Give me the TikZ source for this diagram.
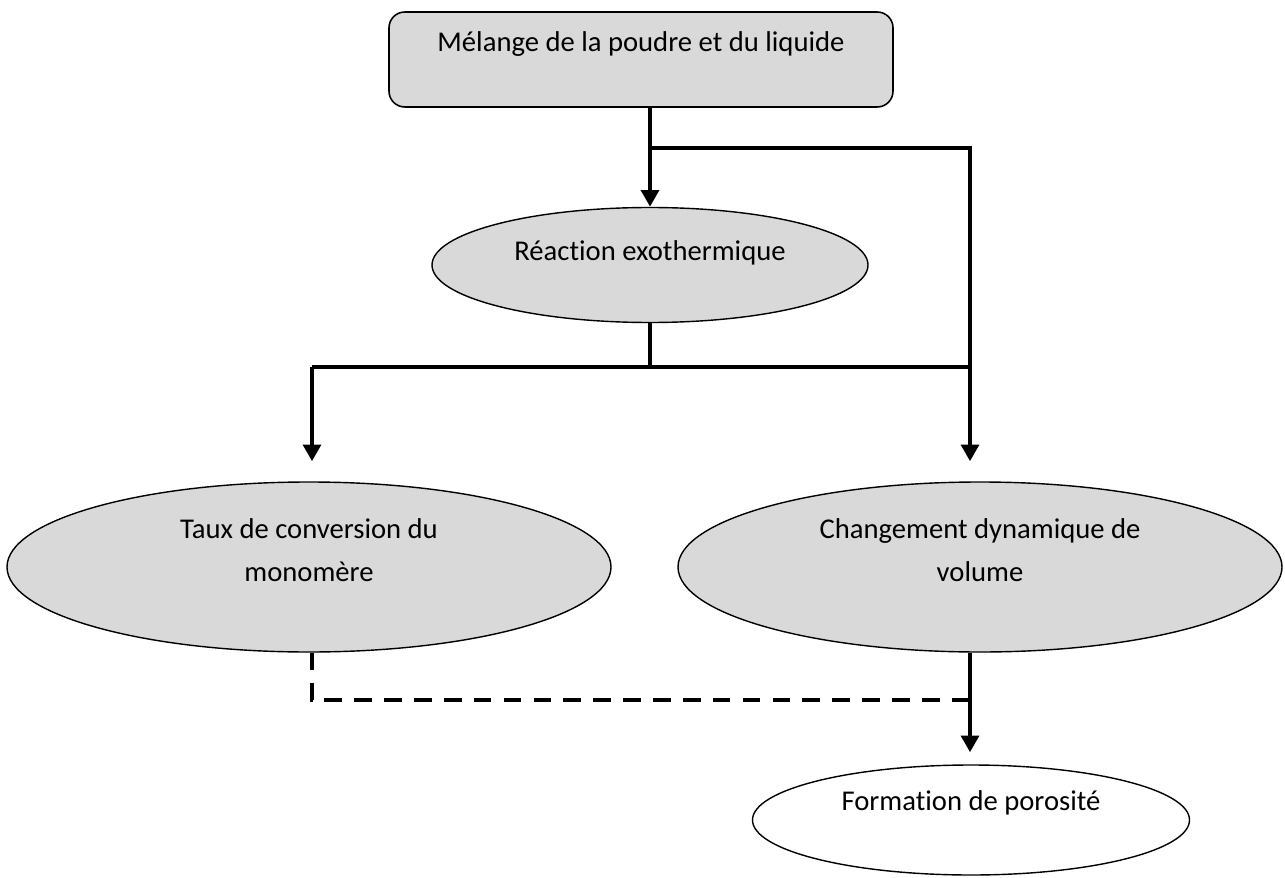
\documentclass[tikz,border=0pt]{standalone}
\usepackage{fontspec}
\setmainfont{Carlito}[Ligatures=NoCommon]
\usepackage{tikz}
\usetikzlibrary{shapes.geometric, arrows.meta, positioning}

\begin{document}
\begin{tikzpicture}[
      font=\fontsize{16.3}{24}\selectfont,
      box/.style={draw, rectangle, rounded corners=9pt, line width=0.9pt,
          fill=black!15, minimum width=10.08cm, minimum height=1.9cm,
          inner sep=0pt, align=center},
      ell/.style={draw, ellipse, line width=0.8pt, fill=black!15,
          inner sep=0pt, align=center},
      arr/.style={-{Triangle[width=10pt,length=9.5pt]}, line width=2.8pt},
      lin/.style={line width=2.8pt},
      thinlin/.style={line width=1.8pt},
      darr/.style={line width=2.4pt, dash pattern=on 10pt off 7pt},
    ]
    \useasboundingbox (0,0) rectangle (25.7,-17.56);

    \node[box, text depth=0.7cm] (mix) at (12.82,-1.19) {Mélange de la poudre et du liquide};
    \node[ell, minimum width=8.72cm, minimum height=2.3cm, text depth=0.58cm] (react) at (13.0,-5.3) {Réaction exothermique};
    \node[ell, minimum width=12.08cm, minimum height=3.4cm, text depth=0.68cm] (conv) at (6.18,-11.34) {Taux de conversion du\\monomère};
    \node[ell, minimum width=12.08cm, minimum height=3.4cm, text depth=0.68cm] (vol) at (19.6,-11.34) {Changement dynamique de\\volume};
    \node[ell, fill=white, minimum width=8.74cm, minimum height=2.2cm, text depth=0.78cm] (poro) at (19.42,-16.4) {Formation de porosité};

    \coordinate (br1) at (13.0,-2.96);
    \coordinate (br2) at (13.0,-7.34);
    \coordinate (jl) at (6.24,-7.34);
    \coordinate (jr) at (19.4,-7.34);
    \coordinate (jn) at (19.4,-2.96);
    \coordinate (dl) at (6.24,-14.0);
    \coordinate (dr) at (19.4,-14.0);

    \draw[arr] (react.north |- mix.south) -- (react.north);
    \draw[thinlin] (br1) -- (jn) -- (jr);
    \draw[lin] (react.south) -- (br2);
    \draw[lin] (jl) -- (jr);
    \draw[arr] (jl) -- ([yshift=0.4cm]jl |- conv.north);
    \draw[arr] (jr) -- ([yshift=0.4cm]jr |- vol.north);

    \draw[darr] (jl |- conv.south) -- (dl) -- (dr);
    \draw[arr] (jr |- vol.south) -- ([yshift=0.24cm]jr |- poro.north);

  \end{tikzpicture}
\end{document}
